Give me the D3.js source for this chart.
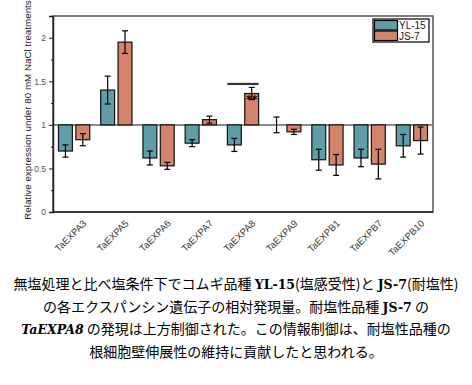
<!DOCTYPE html>
<html lang="ja">
<head>
<meta charset="UTF-8">
<title>TaEXP relative expression</title>
<script src="https://d3js.org/d3.v7.min.js"></script>
<style>
  body { margin: 0; background: #fff; }
  svg { display: block; }
  .tick text { font-family: "Liberation Sans", Arial, sans-serif; }
</style>
</head>
<body>
<svg id="chart" width="472" height="385"></svg>
<script>
// values
const genes = ["TaEXPA3", "TaEXPA5", "TaEXPA6", "TaEXPA7", "TaEXPA8", "TaEXPA9", "TaEXPB1", "TaEXPB7", "TaEXPB10"];
const cultivars = ["YL-15", "JS-7"];
const yl15 = [0.70, 1.40, 0.62, 0.79, 0.77, 1.00, 0.60, 0.62, 0.76];
const yl15Err = [0.07, 0.16, 0.08, 0.04, 0.075, 0.09, 0.12, 0.10, 0.13];
const js7 = [0.83, 1.95, 0.53, 1.06, 1.36, 0.92, 0.54, 0.55, 0.82];
const js7Err = [0.07, 0.13, 0.04, 0.04, 0.07, 0.03, 0.12, 0.17, 0.155];
const majorTicks = [0, 0.5, 1, 1.5, 2];
const minorTicks = [0.25, 0.75, 1.25, 1.75];
const sigGene = "TaEXPA8";
const sigLevel = 1.47;
const colors = { "YL-15": "#5f9ea6", "JS-7": "#d5836a" };

const captionLines = [
  [["無塩処理と比べ塩条件下でコムギ品種 ", ""], ["YL-15", "b"], ["(塩感受性)と ", ""], ["JS-7", "b"], ["(耐塩性)", ""]],
  [["の各エクスパンシン遺伝子の相対発現量。耐塩性品種 ", ""], ["JS-7", "b"], [" の", ""]],
  [["TaEXPA8", "bi"], [" の発現は上方制御された。この情報制御は、耐塩性品種の", ""]],
  [["根細胞壁伸展性の維持に貢献したと思われる。", ""]]
];

const svg = d3.select("#chart");
const plotL = 53, plotR = 433, plotT = 16, plotB = 212;

const x = d3.scaleBand().domain(genes).range([plotL, plotR]).paddingInner(0.26).paddingOuter(0.13);
const xSub = d3.scaleBand().domain(cultivars).range([0, x.bandwidth()]).paddingInner(0.2);
const y = d3.scaleLinear().domain([0, 2.25]).range([plotB, plotT]);

// frame
svg.append("rect")
  .attr("x", plotL).attr("y", plotT)
  .attr("width", plotR - plotL).attr("height", plotB - plotT)
  .attr("fill", "none").attr("stroke", "#555").attr("stroke-width", 1.5);

// baseline at 1
svg.append("line")
  .attr("x1", plotL).attr("x2", plotR)
  .attr("y1", y(1)).attr("y2", y(1))
  .attr("stroke", "#666").attr("stroke-width", 1.5);

// bars
const rows = genes.map((g, i) => ({
  gene: g,
  items: [
    { key: "YL-15", v: yl15[i], e: yl15Err[i] },
    { key: "JS-7", v: js7[i], e: js7Err[i] }
  ]
}));

const groups = svg.selectAll(".grp").data(rows).enter()
  .append("g").attr("class", "grp")
  .attr("transform", d => `translate(${x(d.gene)},0)`);

groups.selectAll("rect").data(d => d.items).enter()
  .append("rect")
  .attr("x", d => xSub(d.key))
  .attr("y", d => Math.min(y(d.v), y(1)))
  .attr("width", xSub.bandwidth())
  .attr("height", d => Math.abs(y(d.v) - y(1)))
  .attr("fill", d => colors[d.key])
  .attr("stroke", "#111").attr("stroke-width", 1.2);

// error bars
const err = groups.selectAll(".err").data(d => d.items).enter()
  .append("g").attr("class", "err")
  .attr("stroke", "#000").attr("stroke-width", 1.2);
err.append("line")
  .attr("x1", d => xSub(d.key) + xSub.bandwidth() / 2)
  .attr("x2", d => xSub(d.key) + xSub.bandwidth() / 2)
  .attr("y1", d => y(d.v - d.e)).attr("y2", d => y(d.v + d.e));
[-1, 1].forEach(s => {
  err.append("line")
    .attr("x1", d => xSub(d.key) + xSub.bandwidth() / 2 - 3)
    .attr("x2", d => xSub(d.key) + xSub.bandwidth() / 2 + 3)
    .attr("y1", d => y(d.v + s * d.e)).attr("y2", d => y(d.v + s * d.e));
});

// significance marks on TaEXPA8
const si = genes.indexOf(sigGene);
svg.append("line")
  .attr("x1", x(sigGene)).attr("x2", x(sigGene) + x.bandwidth())
  .attr("y1", y(sigLevel)).attr("y2", y(sigLevel))
  .attr("stroke", "#333").attr("stroke-width", 2.2);
svg.append("text")
  .attr("x", x(sigGene) + xSub("JS-7") + xSub.bandwidth() / 2)
  .attr("y", y(js7[si]) + 9)
  .attr("text-anchor", "middle")
  .attr("font-family", "DejaVu Sans, sans-serif")
  .attr("font-weight", "bold").attr("font-size", 11)
  .attr("fill", "#000")
  .text("**");

// y axis
const yAxis = svg.append("g")
  .attr("transform", `translate(${plotL},0)`)
  .call(d3.axisLeft(y).tickValues(majorTicks).tickSize(4).tickPadding(3).tickFormat(d => d));
yAxis.select(".domain").attr("stroke", "#222").attr("stroke-width", 1.5);
yAxis.selectAll(".tick line").attr("stroke", "#222");
yAxis.selectAll(".tick text").attr("font-size", 8.5).attr("fill", "#555");

const yMinor = svg.append("g")
  .attr("transform", `translate(${plotL},0)`)
  .call(d3.axisLeft(y).tickValues(minorTicks).tickSize(2).tickFormat(""));
yMinor.select(".domain").remove();
yMinor.selectAll(".tick line").attr("stroke", "#222");

// bottom axis line
svg.append("line")
  .attr("x1", plotL).attr("x2", plotR)
  .attr("y1", plotB).attr("y2", plotB)
  .attr("stroke", "#222").attr("stroke-width", 1.5);

// x labels
svg.selectAll(".xlab").data(genes).enter()
  .append("text").attr("class", "xlab")
  .attr("transform", d => `translate(${x(d) + x.bandwidth() / 2 + 13},224) rotate(-45)`)
  .attr("text-anchor", "end")
  .attr("font-family", "Liberation Sans, Arial, sans-serif")
  .attr("font-size", 9.5).attr("fill", "#333")
  .text(d => d);

// y label
svg.append("text")
  .attr("transform", `translate(31,${(plotT + plotB) / 2 - 4}) rotate(-90)`)
  .attr("text-anchor", "middle")
  .attr("font-family", "Liberation Sans, Arial, sans-serif")
  .attr("font-size", 9.8).attr("fill", "#222")
  .text("Relative expression under 80 mM NaCl treatments");

// legend
const lg = svg.append("g").attr("transform", "translate(373,19)");
lg.append("rect").attr("width", 56).attr("height", 23)
  .attr("fill", "#fff").attr("stroke", "#000").attr("stroke-width", 1.2);
cultivars.forEach((c, i) => {
  lg.append("rect")
    .attr("x", 1.5).attr("y", 1.5 + i * 10.5)
    .attr("width", 23).attr("height", 9.5)
    .attr("fill", colors[c]).attr("stroke", "#000").attr("stroke-width", 1.2);
  lg.append("text")
    .attr("x", 26).attr("y", 10 + i * 10.5)
    .attr("font-family", "Liberation Sans, Arial, sans-serif")
    .attr("font-size", 10).attr("fill", "#222")
    .text(c);
});

// caption
const cap = svg.append("text")
  .attr("text-anchor", "middle")
  .attr("font-family", "Noto Sans CJK JP, sans-serif")
  .attr("font-size", 14).attr("fill", "#000");
captionLines.forEach((line, i) => {
  line.forEach(([t, st], j) => {
    const ts = cap.append("tspan").text(t);
    if (j === 0) ts.attr("x", 236).attr("y", 289 + i * 22.5);
    if (st) {
      ts.attr("font-family", "DejaVu Serif, serif").attr("font-weight", "bold").attr("font-size", 12.5);
      if (st === "bi") ts.attr("font-style", "italic");
    }
  });
});
</script>
</body>
</html>
